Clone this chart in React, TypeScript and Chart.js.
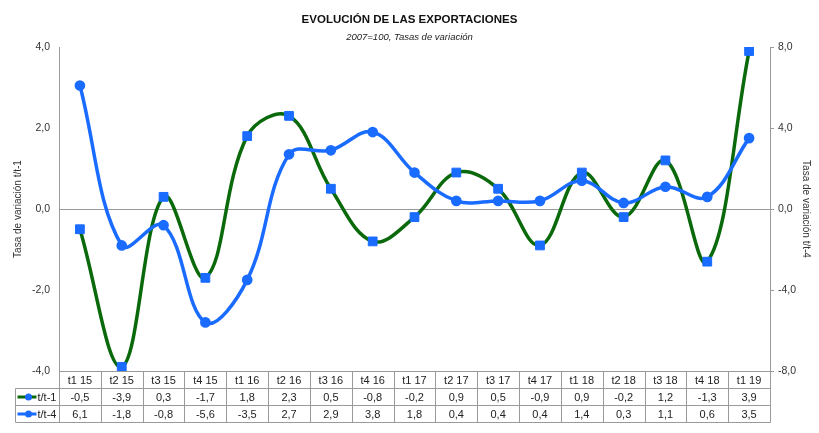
import React, { useEffect, useRef } from "react";
import { Chart, registerables } from "chart.js";

Chart.register(...registerables);

const categories = ["t1 15", "t2 15", "t3 15", "t4 15", "t1 16", "t2 16", "t3 16", "t4 16", "t1 17", "t2 17", "t3 17", "t4 17", "t1 18", "t2 18", "t3 18", "t4 18", "t1 19"];
const tt1 = [-0.5, -3.9, 0.3, -1.7, 1.8, 2.3, 0.5, -0.8, -0.2, 0.9, 0.5, -0.9, 0.9, -0.2, 1.2, -1.3, 3.9];
const tt4 = [6.1, -1.8, -0.8, -5.6, -3.5, 2.7, 2.9, 3.8, 1.8, 0.4, 0.4, 0.4, 1.4, 0.3, 1.1, 0.6, 3.5];
const seriesNames = ["t/t-1", "t/t-4"];

const GREEN = "#0a690a";
const BLUE = "#1a6bff";
const GRID = "#9a9a9a";
const FONT = "'Liberation Sans', Arial, sans-serif";

const fmt = (v: number) => v.toFixed(1).replace(".", ",");

const tablePlugin = {
  id: "dataTable",
  afterDraw(chart: any) {
    const { ctx, chartArea } = chart;
    const xs = chart.scales.x;
    const n = categories.length;
    const step = (chartArea.right - chartArea.left) / n;
    const top = Math.round(chartArea.bottom) + 0.5;
    const rowH = 17;
    const legendLeft = 15.5;
    const left = Math.round(chartArea.left) + 0.5;
    ctx.save();
    ctx.strokeStyle = GRID;
    ctx.lineWidth = 1;
    ctx.beginPath();
    ctx.moveTo(left, top);
    ctx.lineTo(Math.round(chartArea.right) + 0.5, top);
    for (let r = 1; r <= 3; r++) {
      const y = top + r * rowH;
      ctx.moveTo(legendLeft, y);
      ctx.lineTo(Math.round(chartArea.right) + 0.5, y);
    }
    ctx.moveTo(legendLeft, top + rowH);
    ctx.lineTo(legendLeft, top + 3 * rowH);
    for (let i = 0; i <= n; i++) {
      const x = Math.round(xs.getPixelForValue(Math.min(i, n - 1)) + (i === n ? step / 2 : -step / 2)) + 0.5;
      ctx.moveTo(x, top);
      ctx.lineTo(x, top + 3 * rowH);
    }
    ctx.stroke();

    ctx.fillStyle = "#222";
    ctx.font = `11px ${FONT}`;
    ctx.textAlign = "center";
    ctx.textBaseline = "middle";
    const rows = [categories, tt1.map(fmt), tt4.map(fmt)];
    rows.forEach((row, r) => {
      const y = top + r * rowH + rowH / 2 + 0.5;
      row.forEach((t, i) => {
        ctx.fillText(t, xs.getPixelForValue(i), y);
      });
    });

    const colors = [GREEN, BLUE];
    seriesNames.forEach((name, k) => {
      const y = top + (k + 1) * rowH + rowH / 2;
      ctx.strokeStyle = colors[k];
      ctx.lineWidth = 3;
      ctx.beginPath();
      ctx.moveTo(legendLeft + 2, y);
      ctx.lineTo(legendLeft + 21, y);
      ctx.stroke();
      ctx.fillStyle = BLUE;
      ctx.beginPath();
      ctx.arc(legendLeft + 13, y, 3.5, 0, Math.PI * 2);
      ctx.fill();
      ctx.fillStyle = "#222";
      ctx.textAlign = "left";
      ctx.fillText(name, legendLeft + 22, y + 0.5);
    });
    ctx.restore();
  },
};

export default function App() {
  const ref = useRef<HTMLCanvasElement>(null);
  useEffect(() => {
    if (!ref.current) return;
    const chart = new Chart(ref.current, {
      type: "line",
      data: {
        labels: categories,
        datasets: [
          {
            label: seriesNames[0],
            data: tt1,
            yAxisID: "y",
            borderColor: GREEN,
            backgroundColor: BLUE,
            pointBackgroundColor: BLUE,
            pointBorderColor: BLUE,
            pointStyle: "rect",
            pointRadius: 6.2,
            pointBorderWidth: 1,
            borderWidth: 3.5,
            tension: 0.38,
            order: 1,
          },
          {
            label: seriesNames[1],
            data: tt4,
            yAxisID: "y2",
            borderColor: BLUE,
            backgroundColor: BLUE,
            pointBackgroundColor: BLUE,
            pointBorderColor: BLUE,
            pointStyle: "circle",
            pointRadius: 3.6,
            borderWidth: 3.5,
            tension: 0.38,
            order: 0,
          },
        ],
      },
      options: {
        responsive: false,
        animation: false,
        layout: { padding: { top: 0, bottom: 62, left: 0, right: 0 } },
        plugins: {
          legend: { display: false },
          tooltip: { enabled: false },
          title: {
            display: true,
            text: "EVOLUCIÓN DE LAS EXPORTACIONES",
            color: "#111",
            font: { family: FONT, size: 11.5, weight: "bold" },
            padding: { top: 13, bottom: 0 },
          },
          subtitle: {
            display: true,
            text: "2007=100, Tasas de variación",
            color: "#222",
            font: { family: FONT, size: 9.5, style: "italic" },
            padding: { top: 4.4, bottom: 4.4 },
          },
        },
        scales: {
          x: { type: "category", display: false, offset: true },
          y: {
            position: "left",
            min: -4,
            max: 4,
            ticks: { stepSize: 2, callback: (v: any) => fmt(Number(v)), color: "#333", font: { family: FONT, size: 10.5 }, padding: 9 },
            grid: { color: (c: any) => (c.tick && c.tick.value === 0 ? GRID : "transparent"), drawTicks: false },
            border: { display: true, color: GRID },
            title: { display: true, text: "Tasa de variación t/t-1", color: "#333", font: { family: FONT, size: 10 }, padding: { top: 12.5, bottom: 0 } },
            afterFit: (s: any) => { s.width = 59; },
          },
          y2: {
            position: "right",
            min: -8,
            max: 8,
            ticks: { stepSize: 4, callback: (v: any) => fmt(Number(v)), color: "#333", font: { family: FONT, size: 10.5 }, padding: 4 },
            grid: { drawOnChartArea: false, color: GRID, tickLength: 4 },
            border: { display: true, color: GRID },
            title: { display: true, text: "Tasa de variación t/t-4", color: "#333", font: { family: FONT, size: 10 }, padding: { top: 7.5, bottom: 0 } },
            afterFit: (s: any) => { s.width = 49; },
          },
        },
      },
      plugins: [tablePlugin],
    } as any);
    return () => chart.destroy();
  }, []);
  return (
    <div style={{ position: "absolute", left: 0, top: 0, width: 819, height: 433, background: "#fff" }}>
      <canvas ref={ref} width={819} height={433} style={{ display: "block" }} />
    </div>
  );
}
